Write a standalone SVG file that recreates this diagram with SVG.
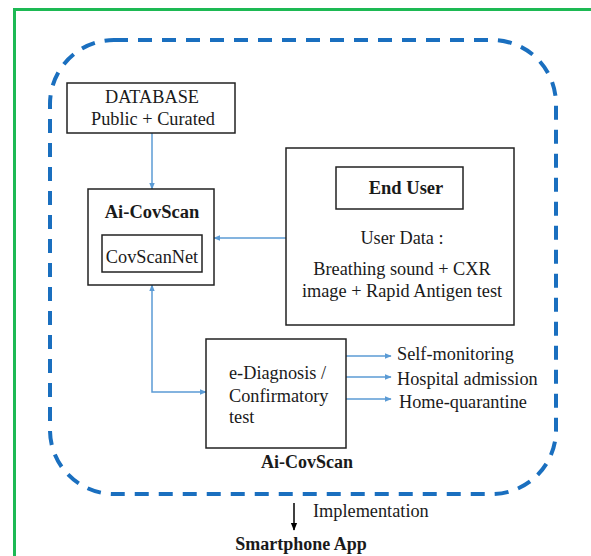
<svg xmlns="http://www.w3.org/2000/svg" width="591" height="556" viewBox="0 0 591 556">
<style>
text{font-family:"Liberation Serif","Times New Roman",serif;font-size:18.3px;fill:#1a1a1a}
.b{font-weight:bold;font-size:18.5px}
.lb{font-weight:bold;font-size:18px}
.box{fill:#fff;stroke:#222;stroke-width:1.5}
.con{fill:none;stroke:#5b9bd5;stroke-width:1.5}
</style>
<defs>
<marker id="ah" viewBox="0 0 10 10" refX="9" refY="5" markerWidth="7" markerHeight="7" orient="auto-start-reverse" markerUnits="userSpaceOnUse">
<path d="M0,1 L10,5 L0,9 z" fill="#5b9bd5"/>
</marker>
<marker id="ak" viewBox="0 0 10 10" refX="9" refY="5" markerWidth="8" markerHeight="8" orient="auto" markerUnits="userSpaceOnUse">
<path d="M0,1 L10,5 L0,9 z" fill="#000"/>
</marker>
</defs>
<rect width="591" height="556" fill="#fff"/>
<path d="M14.5,560 V9.5 H600" fill="none" stroke="#1db954" stroke-width="3"/>
<rect x="50" y="40" width="506" height="454" rx="64" ry="64" fill="none" stroke="#1a6fbf" stroke-width="4" stroke-dasharray="14 10"/>
<g id="connectors">
<line class="con" x1="152" y1="133" x2="152" y2="189" marker-end="url(#ah)"/>
<line class="con" x1="286" y1="238" x2="214" y2="238" marker-end="url(#ah)"/>
<path class="con" d="M152,285 V392 H206" marker-start="url(#ah)" marker-end="url(#ah)"/>
<line class="con" x1="346" y1="356" x2="391" y2="356" marker-end="url(#ah)"/>
<line class="con" x1="346" y1="377" x2="391" y2="377" marker-end="url(#ah)"/>
<line class="con" x1="346" y1="399" x2="391" y2="399" marker-end="url(#ah)"/>
<line x1="294" y1="503" x2="294" y2="530" stroke="#000" stroke-width="1.5" marker-end="url(#ak)"/>
</g>
<g id="database">
<rect class="box" x="67" y="83" width="168" height="50"/>
<text x="152" y="103" text-anchor="middle">DATABASE</text>
<text x="153" y="125" text-anchor="middle">Public + Curated</text>
</g>
<g id="aicovscan">
<rect class="box" x="88" y="189" width="126" height="96"/>
<text class="b" x="152" y="218" text-anchor="middle">Ai-CovScan</text>
<rect class="box" x="102" y="235" width="100" height="37"/>
<text x="152" y="263" text-anchor="middle">CovScanNet</text>
</g>
<g id="enduser">
<rect class="box" x="286" y="148" width="228" height="177"/>
<rect class="box" x="336" y="167" width="127" height="42"/>
<text class="b" x="406" y="194" text-anchor="middle">End User</text>
<text x="402" y="244" text-anchor="middle">User Data :</text>
<text x="402" y="275" text-anchor="middle">Breathing sound + CXR</text>
<text x="402" y="297" text-anchor="middle">image + Rapid Antigen test</text>
</g>
<g id="ediagnosis">
<rect class="box" x="206" y="339" width="140" height="109"/>
<text x="229" y="379">e-Diagnosis /</text>
<text x="229" y="402">Confirmatory</text>
<text x="229" y="423">test</text>
</g>
<g id="outcomes">
<text x="397" y="360">Self-monitoring</text>
<text x="397" y="385">Hospital admission</text>
<text x="399" y="408">Home-quarantine</text>
</g>
<g id="labels">
<text class="lb" x="307" y="468" text-anchor="middle">Ai-CovScan</text>
<text x="313" y="517">Implementation</text>
<text class="lb" x="301" y="550" text-anchor="middle">Smartphone App</text>
</g>
</svg>
